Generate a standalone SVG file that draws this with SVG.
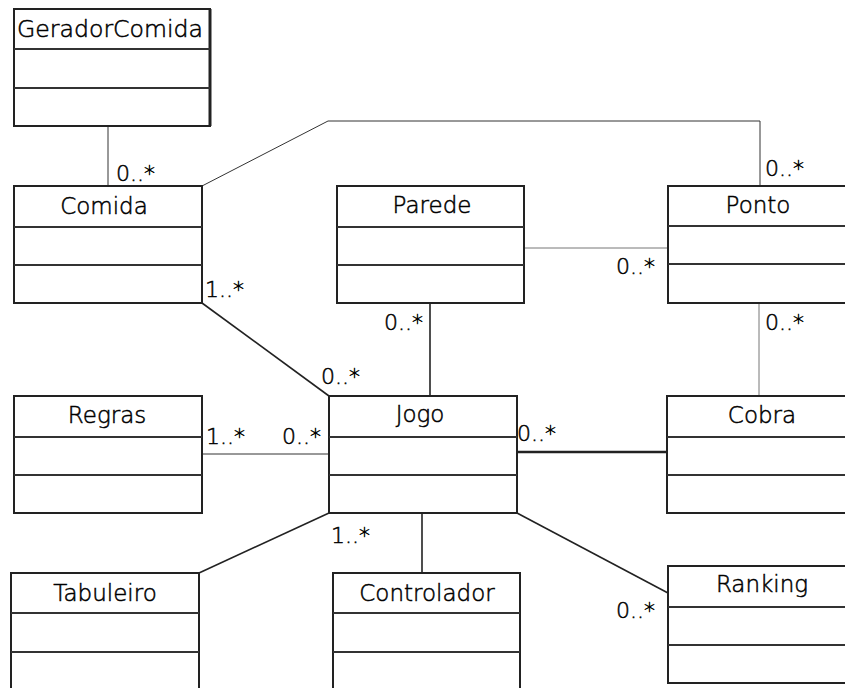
<svg xmlns="http://www.w3.org/2000/svg" width="845" height="688" viewBox="0 0 845 688">
  <style>
    .box { fill: #fff; stroke: #222; stroke-width: 2; }
    .div { stroke: #333; stroke-width: 2; }
    .title { font-family: "DejaVu Sans", "Liberation Sans", sans-serif; font-weight: 200; font-size: 23px; fill: #000; stroke: #000; stroke-width: 0.5; text-anchor: middle; }
    .mult { font-family: "DejaVu Sans", "Liberation Sans", sans-serif; font-weight: 200; font-size: 22px; fill: #000; stroke: #000; stroke-width: 0.5; }
    .thin { stroke: #333; stroke-width: 1; fill: none; }
    .gray { stroke: #777; stroke-width: 1; fill: none; }
    .med { stroke: #222; stroke-width: 1.6; fill: none; }
    .bold { stroke: #222; stroke-width: 2.5; fill: none; }
  </style>
  <rect width="845" height="688" fill="#fff"/>

  <!-- associations -->
  <g id="connectors">
    <line class="thin" x1="108" y1="126" x2="108" y2="186"/>
    <polyline class="thin" points="202,186 328,121 760,121 760,186"/>
    <line class="gray" x1="524" y1="248" x2="668" y2="248"/>
    <line class="med" x1="202" y1="303" x2="329" y2="396"/>
    <line class="med" x1="430" y1="303" x2="430" y2="396"/>
    <line class="gray" x1="759" y1="303" x2="759" y2="396"/>
    <line class="thin" x1="202" y1="454" x2="329" y2="454"/>
    <line class="bold" x1="517" y1="452" x2="667" y2="452"/>
    <line class="med" x1="199" y1="573" x2="329" y2="513"/>
    <line class="med" x1="422" y1="513" x2="422" y2="573"/>
    <line class="med" x1="517" y1="513" x2="668" y2="593"/>
  </g>

  <!-- multiplicities -->
  <g id="labels">
    <text class="mult" x="116" y="181">0..*</text>
    <text class="mult" x="765" y="176">0..*</text>
    <text class="mult" x="616" y="274">0..*</text>
    <text class="mult" x="205" y="297">1..*</text>
    <text class="mult" x="384" y="330">0..*</text>
    <text class="mult" x="765" y="330">0..*</text>
    <text class="mult" x="321" y="384">0..*</text>
    <text class="mult" x="206" y="444">1..*</text>
    <text class="mult" x="282" y="444">0..*</text>
    <text class="mult" x="517" y="441">0..*</text>
    <text class="mult" x="331" y="543">1..*</text>
    <text class="mult" x="616" y="618">0..*</text>
  </g>

  <g id="GeradorComida">
    <rect class="box" x="14" y="9" width="196" height="117"/>
    <line x1="210" y1="9" x2="210" y2="126" stroke="#222" stroke-width="3"/>
    <line class="div" x1="14" y1="49" x2="210" y2="49"/>
    <line class="div" x1="14" y1="88" x2="210" y2="88"/>
    <text class="title" x="110" y="37" textLength="186" lengthAdjust="spacingAndGlyphs">GeradorComida</text>
  </g>

  <g id="Comida">
    <rect class="box" x="14" y="186" width="188" height="117"/>
    <line class="div" x1="14" y1="227" x2="202" y2="227"/>
    <line class="div" x1="14" y1="265" x2="202" y2="265"/>
    <text class="title" x="104" y="214">Comida</text>
  </g>

  <g id="Parede">
    <rect class="box" x="337" y="186" width="187" height="117"/>
    <line class="div" x1="337" y1="227" x2="524" y2="227"/>
    <line class="div" x1="337" y1="265" x2="524" y2="265"/>
    <text class="title" x="432" y="213">Parede</text>
  </g>

  <g id="Ponto">
    <rect class="box" x="668" y="186" width="188" height="117"/>
    <line class="div" x1="668" y1="226" x2="856" y2="226"/>
    <line class="div" x1="668" y1="264" x2="856" y2="264"/>
    <text class="title" x="758" y="213">Ponto</text>
  </g>

  <g id="Regras">
    <rect class="box" x="14" y="396" width="188" height="117"/>
    <line class="div" x1="14" y1="437" x2="202" y2="437"/>
    <line class="div" x1="14" y1="475" x2="202" y2="475"/>
    <text class="title" x="107" y="423">Regras</text>
  </g>

  <g id="Jogo">
    <rect class="box" x="329" y="396" width="188" height="117"/>
    <line class="div" x1="329" y1="437" x2="517" y2="437"/>
    <line class="div" x1="329" y1="475" x2="517" y2="475"/>
    <text class="title" x="420" y="422">Jogo</text>
  </g>

  <g id="Cobra">
    <rect class="box" x="667" y="396" width="188" height="117"/>
    <line class="div" x1="667" y1="437" x2="855" y2="437"/>
    <line class="div" x1="667" y1="475" x2="855" y2="475"/>
    <text class="title" x="762" y="423">Cobra</text>
  </g>

  <g id="Tabuleiro">
    <rect class="box" x="11" y="573" width="188" height="125"/>
    <line class="div" x1="11" y1="613" x2="199" y2="613"/>
    <line class="div" x1="11" y1="652" x2="199" y2="652"/>
    <text class="title" x="105" y="601">Tabuleiro</text>
  </g>

  <g id="Controlador">
    <rect class="box" x="333" y="573" width="187" height="125"/>
    <line class="div" x1="333" y1="613" x2="520" y2="613"/>
    <line class="div" x1="333" y1="652" x2="520" y2="652"/>
    <text class="title" x="427" y="601">Controlador</text>
  </g>

  <g id="Ranking">
    <rect class="box" x="668" y="566" width="188" height="117"/>
    <line class="div" x1="668" y1="607" x2="856" y2="607"/>
    <line class="div" x1="668" y1="645" x2="856" y2="645"/>
    <text class="title" x="762" y="592">Ranking</text>
  </g>
</svg>
